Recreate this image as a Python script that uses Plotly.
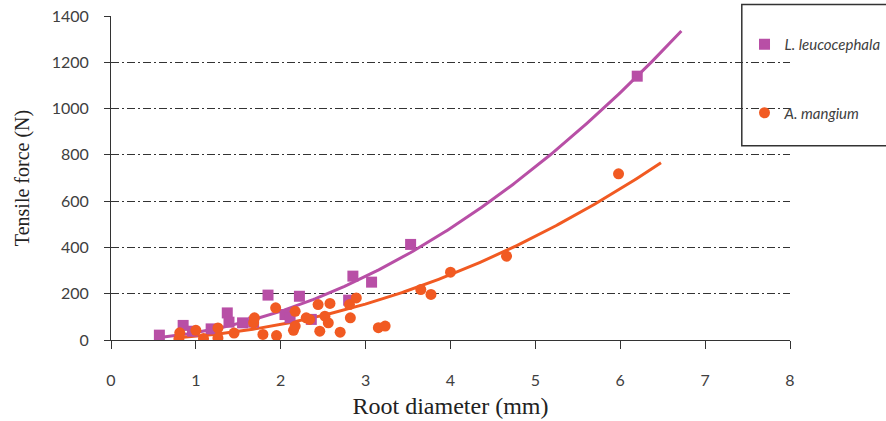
import numpy as np
import plotly.graph_objects as go

# ---- data ----
lc_x = [0.57, 0.85, 0.96, 1.18, 1.37, 1.39, 1.55, 1.68, 1.85, 2.05, 2.11, 2.22, 2.36, 2.80, 2.85, 3.07, 3.53, 6.20]
lc_y = [21, 63, 38, 48, 117, 77, 74, 77, 194, 110, 96, 189, 89, 172, 276, 250, 413, 1140]

am_x = [0.80, 0.81, 1.00, 1.09, 1.26, 1.26, 1.45, 1.68, 1.69, 1.79, 1.94, 1.95, 2.15, 2.17, 2.17,
        2.30, 2.34, 2.44, 2.46, 2.52, 2.56, 2.58, 2.70, 2.81, 2.82, 2.89, 3.15, 3.23, 3.65, 3.77,
        4.00, 4.66, 5.98]
am_y = [5, 31, 42, 6, 52, 9, 30, 74, 96, 24, 139, 19, 42, 124, 60,
        96, 89, 153, 38, 103, 74, 158, 34, 153, 96, 182, 53, 60, 218, 197,
        293, 362, 718]

# power trendlines  y = a * x^b  (coefficients, x-range)
lc_trend = [31.9, 1.96]
lc_trend_range = [0.55, 6.72]
am_trend = [16.0, 2.07]
am_trend_range = [0.75, 6.48]

x_ticks = [0, 1, 2, 3, 4, 5, 6, 7, 8]
y_ticks = [0, 200, 400, 600, 800, 1000, 1200, 1400]

names = ["L. leucocephala", "A. mangium"]
c_lc = "#B84FA6"
c_am = "#F15A22"

fig = go.Figure()

tx = np.linspace(lc_trend_range[0], lc_trend_range[1], 200)
fig.add_trace(go.Scatter(x=tx, y=lc_trend[0] * tx ** lc_trend[1], mode="lines",
                         line=dict(color=c_lc, width=3), showlegend=False, hoverinfo="skip"))
tx2 = np.linspace(am_trend_range[0], am_trend_range[1], 200)
fig.add_trace(go.Scatter(x=tx2, y=am_trend[0] * tx2 ** am_trend[1], mode="lines",
                         line=dict(color=c_am, width=3), showlegend=False, hoverinfo="skip"))

fig.add_trace(go.Scatter(x=lc_x, y=lc_y, mode="markers", name=names[0], legendgroup="a",
                         marker=dict(symbol="square", size=11, color=c_lc)))
fig.add_trace(go.Scatter(x=am_x, y=am_y, mode="markers", name=names[1], legendgroup="b",
                         marker=dict(symbol="circle", size=11, color=c_am)))

tick_font = dict(family="Lato", size=16, color="#404040")

fig.update_layout(
    width=886, height=421,
    margin=dict(l=111, r=96, t=16, b=80.5, autoexpand=False),
    plot_bgcolor="white", paper_bgcolor="white",
    xaxis=dict(range=[0, 8], tickvals=x_ticks, showgrid=False, zeroline=False,
               showline=True, linecolor="#333333", linewidth=1,
               ticks="outside", ticklen=8, tickcolor="#333333",
               ticklabelstandoff=18, tickfont=tick_font, automargin=False,
               title=dict(text="Root diameter (mm)",
                          font=dict(family="Liberation Serif", size=24, color="#222222"),
                          standoff=8)),
    yaxis=dict(range=[0, 1400], tickvals=y_ticks, showgrid=True, gridcolor="#333333",
               gridwidth=1, griddash="8px,3px,2px,3px", zeroline=False,
               showline=True, linecolor="#333333", linewidth=1,
               ticks="outside", ticklen=6, tickcolor="#333333",
               ticklabelstandoff=12, tickfont=tick_font, automargin=False,
               title=dict(text="Tensile force (N)",
                          font=dict(family="Liberation Serif", size=20, color="#222222"),
                          standoff=16)),
    legend=dict(x=0.933, y=0.963, xanchor="left", yanchor="top",
                bgcolor="rgba(0,0,0,0)", borderwidth=0,
                font=dict(family="Lato", size=15, color="#404040", style="italic"),
                traceorder="grouped", tracegroupgap=46, itemwidth=30),
    showlegend=True,
    shapes=[dict(type="rect", xref="paper", yref="paper", x0=0.929, x1=1.3,
                 y0=0.5994, y1=1.0354, line=dict(color="#333333", width=1.5),
                 fillcolor="rgba(0,0,0,0)", layer="above")],
)

fig.write_html("out.html")
